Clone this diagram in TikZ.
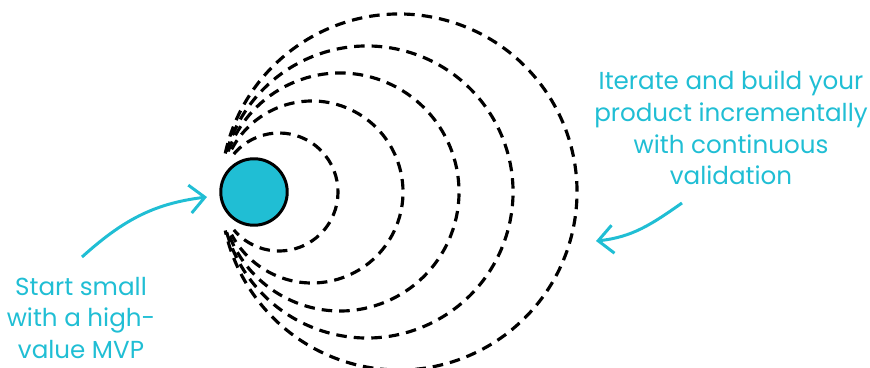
\documentclass[tikz,border=0pt]{standalone}
\usepackage{fontspec}
\setmainfont{Poppins}
\usetikzlibrary{arrows.meta}
\definecolor{mvpcyan}{RGB}{32,190,212}
\tikzstyle{ring} = [black, line width=1.8pt, dash pattern=on 6pt off 4pt]
\tikzstyle{arrow} = [mvpcyan, line width=1.7pt, -{Straight Barb[length=8.5pt, width=16pt]}]

\begin{document}
\begin{tikzpicture}[x=0.02cm, y=0.02cm, font=\fontsize{14}{18.1}\selectfont]
  \useasboundingbox (0,0) rectangle (870,368);
  \foreach \cx/\r/\a in {279/59/140, 312/91/152, 340/119/160, 367/146/164, 399/178/167.5}
    \draw[ring] (\cx,176) ++(\a:\r) arc (\a:-\a:\r);
  \node[circle, draw, line width=1.7pt, fill=mvpcyan, inner sep=0pt, minimum size=1.33cm] (mvp) at (254,176) {};
  \node[text=mvpcyan, align=center] (mvptext) at (81,50) {Start small\\with a high-\\value MVP};
  \node[text=mvpcyan, align=center] (itertext) at (731,240) {Iterate and build your\\product incrementally\\with continuous\\validation};
  \coordinate (mvptail) at (82,111);
  \coordinate (mvphead) at (207,171);
  \coordinate (itertail) at (682,165);
  \coordinate (iterhead) at (596,127);
  \draw[arrow] (mvptail) to[out=42, in=187] (mvphead);
  \draw[arrow] (itertail) to[out=215, in=6] (iterhead);
\end{tikzpicture}
\end{document}
